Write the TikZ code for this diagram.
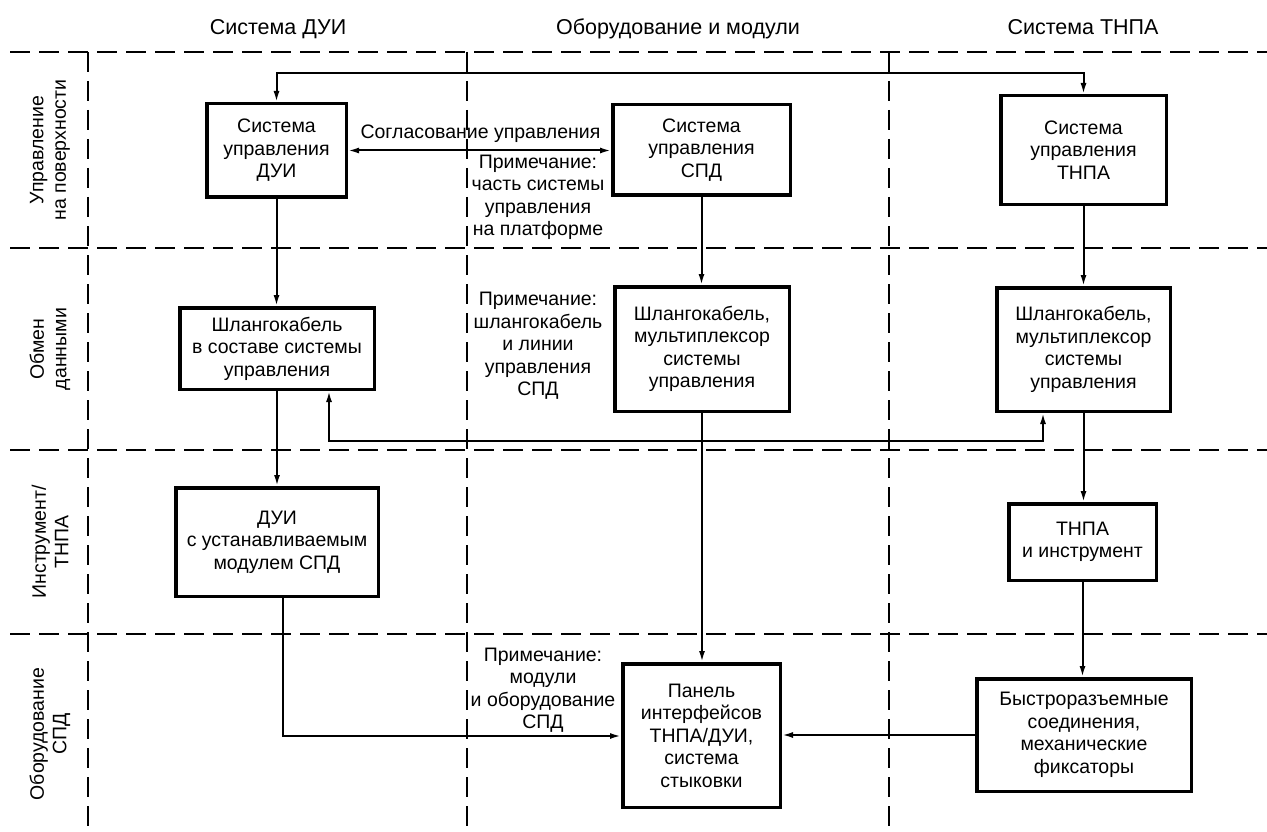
\documentclass[tikz,border=0pt]{standalone}
\usepackage{fontspec}
\setmainfont{Liberation Sans}
\usetikzlibrary{arrows.meta,calc}
\begin{document}
\begin{tikzpicture}[x=1pt,y=-1pt,
  txt/.style={font=\fontsize{19.5}{22.5}\selectfont},
  box/.style={txt,draw,line width=3.5pt,align=center,inner sep=0pt},
  note/.style={txt,align=center,inner sep=0pt},
  hdr/.style={font=\fontsize{21.5}{24}\selectfont,inner sep=0pt,anchor=base},
  rowlab/.style={txt,align=center,rotate=90,inner sep=0pt},
  gridline/.style={line width=2.8pt,dash pattern=on 20pt off 9pt},
  conn/.style={line width=2pt,-{Latex[length=11pt,width=6pt]}},
  conntwo/.style={line width=2pt,{Latex[length=11pt,width=6pt]}-{Latex[length=11pt,width=6pt]}}
]
\useasboundingbox (0,0) rectangle (1267,832);

% grid
\draw[gridline] (10,52) -- (1267,52);
\draw[gridline] (10,248) -- (1267,248);
\draw[gridline] (10,450) -- (1267,450);
\draw[gridline] (10,634) -- (1267,634);
\draw[gridline] (88,52) -- (88,832);
\draw[gridline] (467,52) -- (467,832);
\draw[gridline] (889,52) -- (889,832);

% headers
\node[hdr] (h1) at (278,35) {Система ДУИ};
\node[hdr] (h2) at (678,35) {Оборудование и модули};
\node[hdr] (h3) at (1083,35) {Система ТНПА};

% row labels
\node[rowlab] (r1) at (50,150) {Управление\\на поверхности};
\node[rowlab] (r2) at (50,349) {Обмен\\данными};
\node[rowlab] (r3) at (50,542) {Инструмент/\\ТНПА};
\node[rowlab] (r4) at (50,734) {Оборудование\\СПД};

% boxes
\node[box,minimum width=139.5pt,minimum height=93.5pt] (b1) at (276.5,150.5) {Система\\управления\\ДУИ};
\node[box,minimum width=177.5pt,minimum height=90.5pt] (b2) at (701.5,150) {Система\\управления\\СПД};
\node[box,minimum width=165.5pt,minimum height=108.5pt] (b3) at (1083.5,150) {Система\\управления\\ТНПА};
\node[box,minimum width=194.5pt,minimum height=81.5pt] (b4) at (277,348.5) {Шлангокабель\\в составе системы\\управления};
\node[box,minimum width=202.5pt,minimum height=108.5pt] (b5) at (277,542) {ДУИ\\с устанавливаемым\\модулем СПД};
\node[box,minimum width=174.5pt,minimum height=124.5pt] (b6) at (702,349) {Шлангокабель,\\мультиплексор\\системы\\управления};
\node[box,minimum width=173.5pt,minimum height=123.5pt] (b7) at (1083.5,349.5) {Шлангокабель,\\мультиплексор\\системы\\управления};
\node[box,minimum width=147.5pt,minimum height=76.5pt] (b8) at (1082.5,542) {ТНПА\\и инструмент};
\node[box,minimum width=157.5pt,minimum height=143.5pt] (b9) at (701.5,735.5) {Панель\\интерфейсов\\ТНПА/ДУИ,\\система\\стыковки};
\node[box,minimum width=214.5pt,minimum height=112.5pt] (b10) at (1084,735) {Быстроразъемные\\соединения,\\механические\\фиксаторы};

% notes
\node[note] (n1) at (480.5,134) {Согласование управления};
\node[note] (n2) at (538,197.5) {Примечание:\\часть системы\\управления\\на платформе};
\node[note] (n3) at (538,346) {Примечание:\\шлангокабель\\и линии\\управления\\СПД};
\node[note] (n4) at (543,690) {Примечание:\\модули\\и оборудование\\СПД};

% helper coordinates
\coordinate (top) at (0,73);
\coordinate (l1) at (329,441);
\coordinate (l2) at (1043,441);
\coordinate (c5) at (283,736);

% connectors
\draw[conntwo] (b1.north) -- (b1.north |- top) -| (b3.north);
\draw[conntwo] (b1.east) -- (b1.east -| b2.west);
\draw[conn] (b1.south) -- (b1.south |- b4.north);
\draw[conn] (b2.south) -- (b2.south |- b6.north);
\draw[conn] (b3.south) -- (b3.south |- b7.north);
\draw[conn] (b4.south) -- (b4.south |- b5.north);
\draw[conntwo] (b4.south -| l1) -- (l1) -- (l2) -- (b7.south -| l2);
\draw[conn] (b6.south) -- (b6.south |- b9.north);
\draw[conn] (b7.south) -- (b7.south |- b8.north);
\draw[conn] (b8.south) -- (b8.south |- b10.north);
\draw[conn] (b5.south -| c5) -- (c5) -- (c5 -| b9.west);
\draw[conn] (b10.west) -- (b10.west -| b9.east);
\end{tikzpicture}
\end{document}
